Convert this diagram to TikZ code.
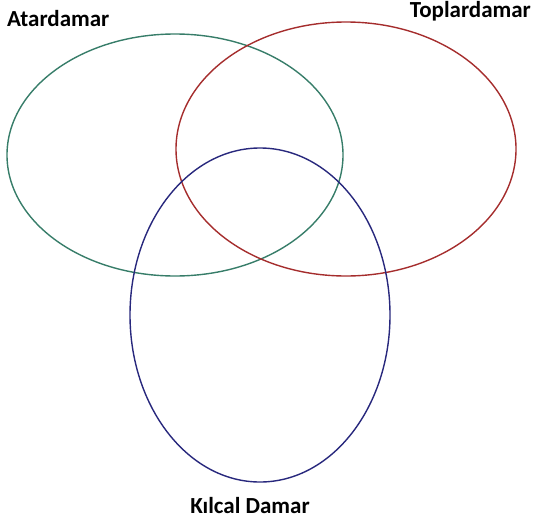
\documentclass[tikz,border=0pt]{standalone}
\usepackage{fontspec}
\setmainfont{Carlito}
\begin{document}
\begin{tikzpicture}[x=1pt,y=-1pt,
  ring/.style={line width=1.4pt},
  lbl/.style={font=\bfseries\fontsize{23}{25}\selectfont, inner sep=0pt}]
\useasboundingbox (0,0) rectangle (534,522);
\definecolor{atar}{RGB}{55,125,105}
\definecolor{toplar}{RGB}{165,45,45}
\definecolor{kilcal}{RGB}{40,40,125}
\draw[ring, atar] (175,155) ellipse [x radius=168, y radius=121];
\draw[ring, toplar] (346,149) ellipse [x radius=170, y radius=127];
\draw[ring, kilcal] (260,315) ellipse [x radius=130, y radius=167];
\node[lbl, anchor=west] (a) at (7,19) {Atardamar};
\node[lbl, anchor=east] (t) at (531,11) {Toplardamar};
\node[lbl] (k) at (250,506) {Kılcal Damar};
\end{tikzpicture}
\end{document}
